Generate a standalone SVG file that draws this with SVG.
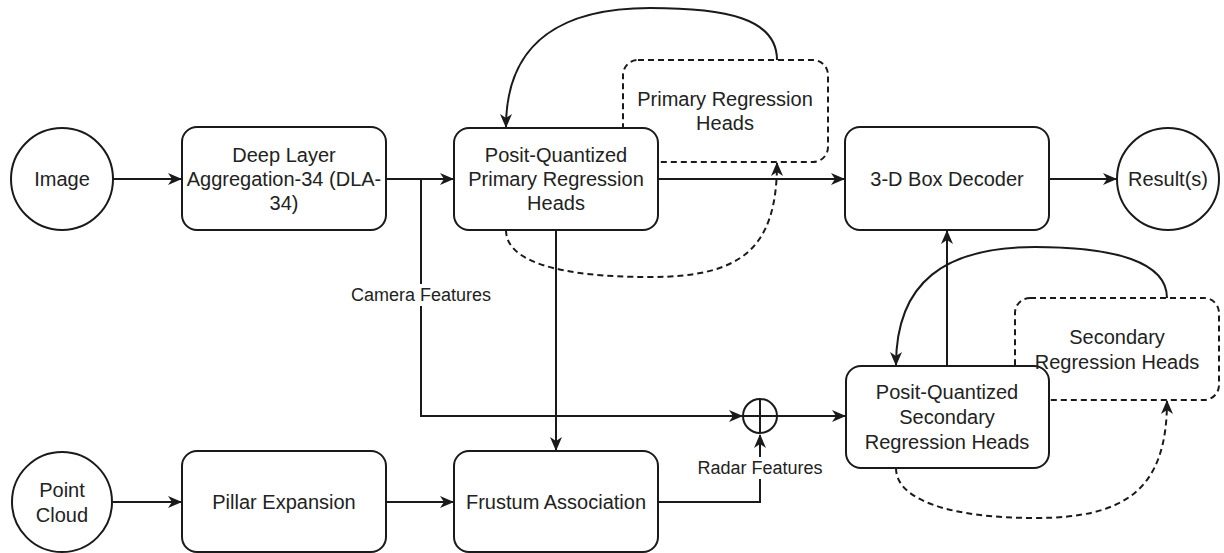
<svg xmlns="http://www.w3.org/2000/svg" width="1224" height="553" viewBox="0 0 1224 553">
  <defs>
    <style>
      .box { fill: #ffffff; stroke: #1a1a1a; stroke-width: 2; }
      .dbox { fill: #ffffff; stroke: #1a1a1a; stroke-width: 2; stroke-dasharray: 6 4; }
      .edge { fill: none; stroke: #1a1a1a; stroke-width: 2; }
      .dedge { fill: none; stroke: #1a1a1a; stroke-width: 2; stroke-dasharray: 6 4; }
      .t { font-family: "Liberation Sans", Arial, sans-serif; font-size: 20px; fill: #222222; text-anchor: middle; }
      .lbl { font-family: "Liberation Sans", Arial, sans-serif; font-size: 18px; fill: #222222; text-anchor: middle; }
      .bg { fill: #ffffff; stroke: none; }
    </style>
    <marker id="arrow" viewBox="0 0 14 12" refX="13" refY="6" markerWidth="14" markerHeight="12" markerUnits="userSpaceOnUse" orient="auto">
      <path d="M0,0 L14,6 L0,12 L4,6 z" fill="#1a1a1a"/>
    </marker>
  </defs>

  <rect width="1224" height="553" fill="#ffffff"/>

  <!-- connectors -->
  <g id="connectors">
    <path class="edge" d="M113,179 L181,179" marker-end="url(#arrow)"/>
    <path class="edge" d="M386,179 L453,179" marker-end="url(#arrow)"/>
    <path class="edge" d="M421,179 L421,416 L742,416" marker-end="url(#arrow)"/>
    <path class="edge" d="M658,179 L844,179" marker-end="url(#arrow)"/>
    <path class="edge" d="M1049,179 L1116,179" marker-end="url(#arrow)"/>
    <path class="edge" d="M556,230 L556,450" marker-end="url(#arrow)"/>
    <path class="edge" d="M113,502 L181,502" marker-end="url(#arrow)"/>
    <path class="edge" d="M386,502 L453,502" marker-end="url(#arrow)"/>
    <path class="edge" d="M658,502 L760,502 L760,435" marker-end="url(#arrow)"/>
    <path class="edge" d="M777,416 L845,416" marker-end="url(#arrow)"/>
    <path class="edge" d="M947,366 L947,231" marker-end="url(#arrow)"/>
    <!-- feedback loops around the primary heads -->
    <path class="edge" d="M777,60 C777,18 725,8 650,8 C565,8 506,40 506,127" marker-end="url(#arrow)"/>
    <path class="dedge" d="M506,230 C506,262 560,277 650,277 C740,277 777,250 777,163" marker-end="url(#arrow)"/>
    <!-- feedback loops around the secondary heads -->
    <path class="edge" d="M1167,298 C1167,262 1115,247 1035,247 C945,247 896,282 896,365" marker-end="url(#arrow)"/>
    <path class="dedge" d="M896,468 C896,500 950,518 1035,518 C1125,518 1167,490 1167,401" marker-end="url(#arrow)"/>
    <!-- edge labels -->
    <rect class="bg" x="346" y="284" width="150" height="22"/>
    <text class="lbl" x="421" y="301">Camera Features</text>
    <rect class="bg" x="694" y="457" width="132" height="22"/>
    <text class="lbl" x="760" y="474">Radar Features</text>
  </g>

  <g id="image">
    <circle class="box" cx="62" cy="179" r="51"/>
    <text class="t" x="62" y="186">Image</text>
  </g>

  <g id="dla34">
    <rect class="box" x="182" y="127" width="204" height="103" rx="15"/>
    <text class="t" x="284" y="162">Deep Layer</text>
    <text class="t" x="284" y="186">Aggregation-34 (DLA-</text>
    <text class="t" x="284" y="210">34)</text>
  </g>

  <g id="primary-heads">
    <rect class="dbox" x="623" y="60" width="205" height="102" rx="15"/>
    <text class="t" x="725" y="106">Primary Regression</text>
    <text class="t" x="725" y="130">Heads</text>
  </g>

  <g id="pq-primary">
    <rect class="box" x="454" y="128" width="204" height="102" rx="15"/>
    <text class="t" x="556" y="162">Posit-Quantized</text>
    <text class="t" x="556" y="186">Primary Regression</text>
    <text class="t" x="556" y="210">Heads</text>
  </g>

  <g id="box-decoder">
    <rect class="box" x="845" y="127" width="204" height="103" rx="15"/>
    <text class="t" x="947" y="186">3-D Box Decoder</text>
  </g>

  <g id="results">
    <circle class="box" cx="1168" cy="179" r="51"/>
    <text class="t" x="1168" y="186">Result(s)</text>
  </g>

  <g id="sum">
    <circle class="box" cx="760" cy="416" r="17"/>
    <path class="edge" d="M743,416 L777,416 M760,399 L760,433"/>
  </g>

  <g id="secondary-heads">
    <rect class="dbox" x="1015" y="298" width="204" height="102" rx="15"/>
  </g>

  <g id="pq-secondary">
    <rect class="box" x="846" y="366" width="203" height="102" rx="15"/>
    <text class="t" x="947" y="399">Posit-Quantized</text>
    <text class="t" x="947" y="424">Secondary</text>
    <text class="t" x="947" y="449">Regression Heads</text>
  </g>

  <g id="secondary-heads-label">
    <text class="t" x="1117" y="344">Secondary</text>
    <text class="t" x="1117" y="369">Regression Heads</text>
  </g>

  <g id="point-cloud">
    <circle class="box" cx="62" cy="502" r="50"/>
    <text class="t" x="62" y="497">Point</text>
    <text class="t" x="62" y="522">Cloud</text>
  </g>

  <g id="pillar-expansion">
    <rect class="box" x="182" y="451" width="204" height="101" rx="15"/>
    <text class="t" x="284" y="509">Pillar Expansion</text>
  </g>

  <g id="frustum-association">
    <rect class="box" x="454" y="451" width="204" height="101" rx="15"/>
    <text class="t" x="556" y="509">Frustum Association</text>
  </g>
</svg>
